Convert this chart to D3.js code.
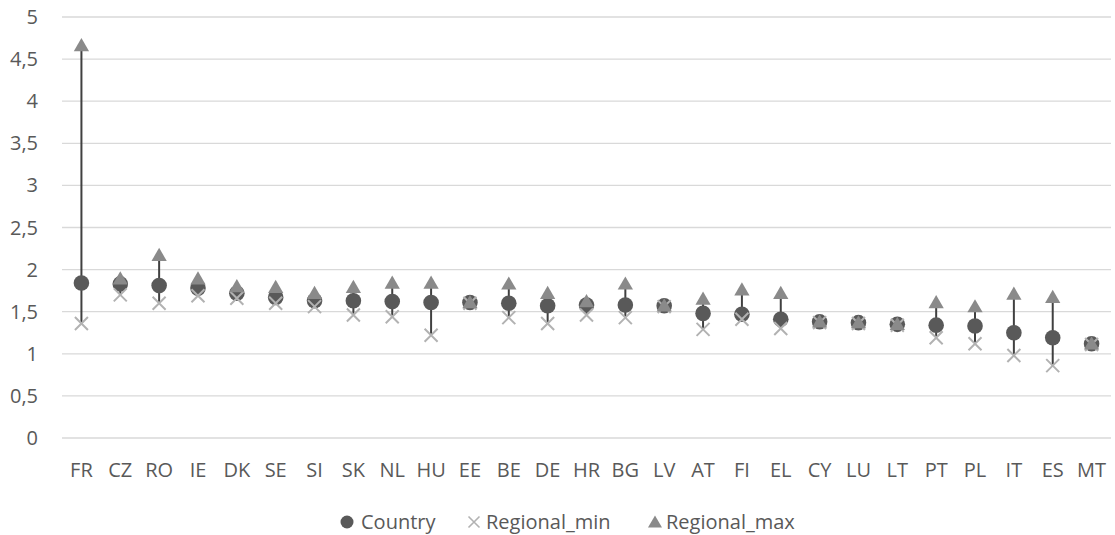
<!DOCTYPE html>
<html><head><meta charset="utf-8">
<script src="https://cdn.jsdelivr.net/npm/d3@7"></script>
<style>body{margin:0;background:#fff}svg{display:block}text{font-family:"Open Sans",sans-serif;fill:#595959}</style>
</head><body><svg id="c" width="1115" height="535"></svg>
<script>
const categories=["FR","CZ","RO","IE","DK","SE","SI","SK","NL","HU","EE","BE","DE","HR","BG","LV","AT","FI","EL","CY","LU","LT","PT","PL","IT","ES","MT"];
const country=[1.84,1.83,1.81,1.78,1.72,1.67,1.63,1.63,1.62,1.61,1.61,1.60,1.57,1.58,1.58,1.57,1.48,1.47,1.41,1.38,1.37,1.35,1.34,1.33,1.25,1.19,1.12];
const regionalMin=[1.36,1.70,1.60,1.69,1.66,1.60,1.56,1.46,1.44,1.22,1.60,1.43,1.36,1.46,1.43,1.56,1.29,1.41,1.30,1.37,1.36,1.34,1.19,1.12,0.98,0.86,1.11];
const regionalMax=[4.66,1.89,2.17,1.89,1.80,1.79,1.72,1.79,1.84,1.84,1.61,1.83,1.72,1.62,1.83,1.57,1.65,1.76,1.72,1.38,1.37,1.35,1.61,1.56,1.71,1.67,1.12];
const yTicks=[0,0.5,1,1.5,2,2.5,3,3.5,4,4.5,5];
const seriesNames=["Country","Regional_min","Regional_max"];

const svg=d3.select("#c");
const x=d3.scaleBand().domain(categories).range([62,1111]);
const y=d3.scaleLinear().domain([0,5]).range([438,17]);
const fmt=d=>String(d).replace(".",",");

svg.append("g").selectAll("line").data(yTicks).join("line")
 .attr("x1",62).attr("x2",1111).attr("y1",d=>y(d)).attr("y2",d=>y(d))
 .attr("stroke","#d9d9d9").attr("stroke-width",1.3);
svg.append("g").selectAll("text").data(yTicks).join("text")
 .attr("x",38).attr("y",d=>y(d)).attr("dy","0.35em").attr("text-anchor","end")
 .attr("font-size",20).text(fmt);
svg.append("g").selectAll("text").data(categories).join("text")
 .attr("x",d=>x(d)+x.bandwidth()/2).attr("y",470).attr("dy","0.35em").attr("text-anchor","middle")
 .attr("font-size",20).text(d=>d);

const cx=i=>x(categories[i])+x.bandwidth()/2;
svg.append("g").selectAll("line").data(categories).join("line")
 .attr("x1",(d,i)=>cx(i)).attr("x2",(d,i)=>cx(i))
 .attr("y1",(d,i)=>y(Math.min(regionalMin[i],regionalMax[i],country[i])))
 .attr("y2",(d,i)=>y(Math.max(regionalMin[i],regionalMax[i],country[i])))
 .attr("stroke","#404040").attr("stroke-width",2);

const circ="#595959", xcol="#b2b2b2", tri="#8a8a8a";
const triPath=d3.symbol(d3.symbolTriangle,101)();
const xPath=(s)=>`M${-s},${-s}L${s},${s}M${-s},${s}L${s},${-s}`;
svg.append("g").selectAll("circle").data(country).join("circle")
 .attr("cx",(d,i)=>cx(i)).attr("cy",d=>y(d)).attr("r",7.8).attr("fill",circ);
svg.append("g").selectAll("path").data(regionalMin).join("path")
 .attr("transform",(d,i)=>`translate(${cx(i)},${y(d)})`).attr("d",xPath(6.5))
 .attr("stroke",xcol).attr("stroke-width",2).attr("fill","none");
svg.append("g").selectAll("path").data(regionalMax).join("path")
 .attr("transform",(d,i)=>`translate(${cx(i)},${y(d)+1.3})`).attr("d",triPath).attr("fill",tri);

const lg=svg.append("g").attr("transform","translate(0,522)");
lg.append("circle").attr("cx",347).attr("cy",0).attr("r",6.5).attr("fill",circ);
lg.append("text").attr("x",361).attr("y",0).attr("dy","0.35em").attr("font-size",20).text(seriesNames[0]);
lg.append("path").attr("transform","translate(474,0)").attr("d",xPath(5.5)).attr("stroke",xcol).attr("stroke-width",1.6).attr("fill","none");
lg.append("text").attr("x",486).attr("y",0).attr("dy","0.35em").attr("font-size",20).text(seriesNames[1]);
lg.append("path").attr("transform","translate(655,1.5)").attr("d",d3.symbol(d3.symbolTriangle,85)()).attr("fill",tri);
lg.append("text").attr("x",666).attr("y",0).attr("dy","0.35em").attr("font-size",20).text(seriesNames[2]);
</script></body></html>
